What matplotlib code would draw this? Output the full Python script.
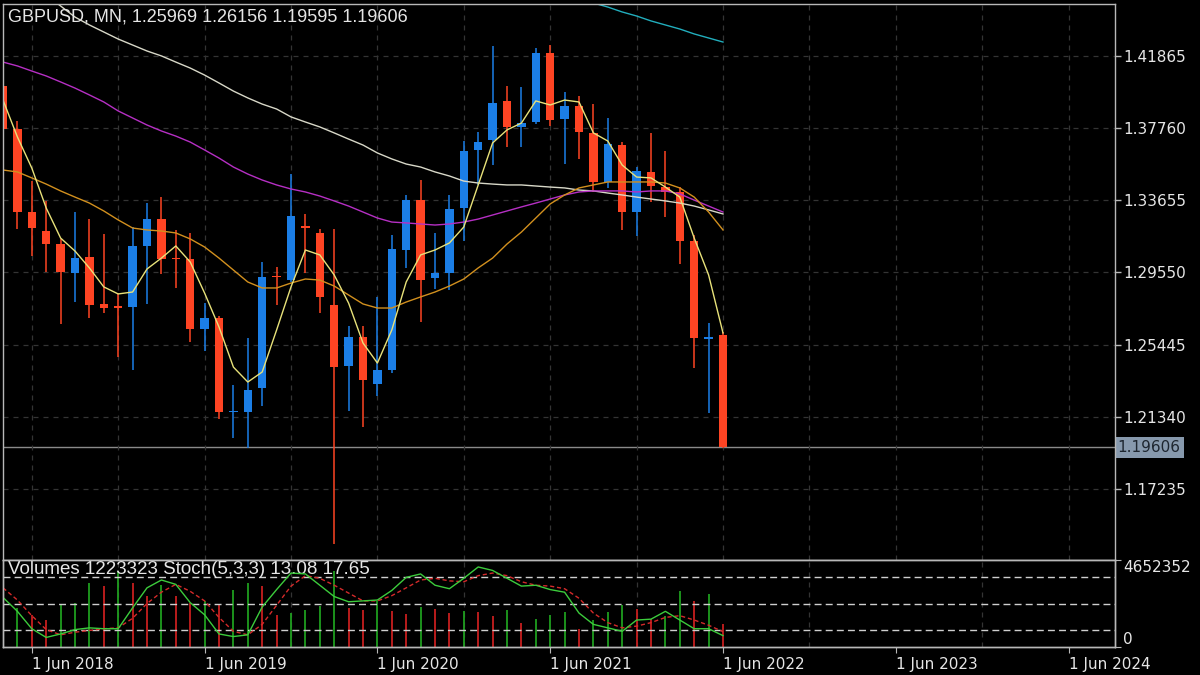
import matplotlib
matplotlib.use("Agg")
import matplotlib.pyplot as plt
import matplotlib.transforms as mtransforms
import numpy as np

# monthly GBPUSD bars, Apr 2018 .. Jun 2022
opens = [1.4016, 1.3771, 1.3297, 1.3190, 1.3117, 1.2950, 1.3043, 1.2776, 1.2764, 1.2759,
         1.3106, 1.3259, 1.3040, 1.3032, 1.2634, 1.2696, 1.2162, 1.2162, 1.2298, 1.2936,
         1.2915, 1.3218, 1.3180, 1.2770, 1.2423, 1.2588, 1.2321, 1.2400, 1.3083, 1.3367,
         1.2924, 1.2950, 1.3322, 1.3652, 1.3708, 1.3931, 1.3783, 1.3811, 1.4203, 1.3828,
         1.3902, 1.3749, 1.3470, 1.3681, 1.3299, 1.3527, 1.3441, 1.3413, 1.3134, 1.2575,
         1.25969]
highs = [1.4377, 1.3818, 1.3473, 1.3363, 1.3144, 1.3298, 1.3258, 1.3175, 1.2840, 1.3215,
         1.3350, 1.3382, 1.3197, 1.3177, 1.2783, 1.2709, 1.2315, 1.2583, 1.3013, 1.2985,
         1.3515, 1.3285, 1.3200, 1.3202, 1.2648, 1.2648, 1.2813, 1.3168, 1.3396, 1.3482,
         1.3177, 1.3398, 1.3703, 1.3754, 1.4241, 1.4017, 1.4009, 1.4234, 1.4249, 1.3984,
         1.3958, 1.3913, 1.3834, 1.3698, 1.3555, 1.3748, 1.3644, 1.3441, 1.3166, 1.2667,
         1.26156]
lows = [1.3711, 1.3205, 1.3049, 1.2957, 1.2662, 1.2786, 1.2696, 1.2723, 1.2475, 1.2400,
        1.2773, 1.2945, 1.2866, 1.2560, 1.2506, 1.2119, 1.2014, 1.1959, 1.2196, 1.2769,
        1.2900, 1.2954, 1.2725, 1.1409, 1.2166, 1.2076, 1.2252, 1.2384, 1.2981, 1.2676,
        1.2863, 1.2855, 1.3135, 1.3451, 1.3566, 1.3669, 1.3669, 1.3800, 1.3788, 1.3572,
        1.3602, 1.3412, 1.3434, 1.3194, 1.3161, 1.3356, 1.3271, 1.3001, 1.2411, 1.2155,
        1.19595]
closes = [1.3771, 1.3297, 1.3206, 1.3117, 1.2960, 1.3035, 1.2770, 1.2753, 1.2753, 1.3106,
          1.3259, 1.3032, 1.3032, 1.2634, 1.2696, 1.2162, 1.2168, 1.2287, 1.2930, 1.2930,
          1.3276, 1.3206, 1.2815, 1.2417, 1.2588, 1.2344, 1.2400, 1.3089, 1.3367, 1.2910,
          1.2952, 1.3316, 1.3646, 1.3697, 1.3919, 1.3783, 1.3807, 1.4203, 1.3822, 1.3902,
          1.3754, 1.3470, 1.3686, 1.3299, 1.3532, 1.3447, 1.3413, 1.3134, 1.2582, 1.2590,
          1.19606]

# moving averages
ma_yellow = [1.3936, 1.3726, 1.3549, 1.3322, 1.3151, 1.3077, 1.2981, 1.2873, 1.2833, 1.2844,
             1.2975, 1.3037, 1.3106, 1.3015, 1.2838, 1.2645, 1.2417, 1.2332, 1.2389, 1.2628,
             1.2873, 1.3083, 1.3055, 1.2941, 1.2781, 1.2554, 1.2440, 1.2628, 1.2901, 1.3055,
             1.3083, 1.3123, 1.3214, 1.3453, 1.3692, 1.3766, 1.3805, 1.3931, 1.3908, 1.3936,
             1.3925, 1.3749, 1.3703, 1.3566, 1.3498, 1.3493, 1.3441, 1.3384, 1.3151, 1.2941,
             1.2611]
ma_orange = [1.3538, 1.3527, 1.3493, 1.3458, 1.3419, 1.3384, 1.3350, 1.3305, 1.3254, 1.3208,
             1.3197, 1.3191, 1.3180, 1.3146, 1.3100, 1.3037, 1.2969, 1.2901, 1.2867, 1.2867,
             1.2895, 1.2918, 1.2912, 1.2878, 1.2827, 1.2776, 1.2753, 1.2753, 1.2787, 1.2816,
             1.2844, 1.2878, 1.2918, 1.2981, 1.3037, 1.3117, 1.3185, 1.3265, 1.3345, 1.3396,
             1.3436, 1.3453, 1.3470, 1.3470, 1.3470, 1.3470, 1.3464, 1.3436, 1.3384, 1.3299,
             1.3197]
ma_magenta = [1.4152, 1.4130, 1.4101, 1.4073, 1.4039, 1.4004, 1.3965, 1.3925, 1.3874, 1.3834,
              1.3794, 1.3760, 1.3731, 1.3697, 1.3652, 1.3606, 1.3555, 1.3515, 1.3481, 1.3453,
              1.3430, 1.3413, 1.3390, 1.3362, 1.3333, 1.3299, 1.3265, 1.3242, 1.3237, 1.3231,
              1.3225, 1.3231, 1.3242, 1.3259, 1.3282, 1.3305, 1.3328, 1.3350, 1.3373, 1.3396,
              1.3413, 1.3419, 1.3419, 1.3419, 1.3413, 1.3419, 1.3419, 1.3402, 1.3367, 1.3333,
              1.3299]
ma_gray = [1.4716, 1.4653, 1.4590, 1.4533, 1.4471, 1.4408, 1.4363, 1.4323, 1.4283, 1.4249,
           1.4215, 1.4187, 1.4152, 1.4118, 1.4078, 1.4033, 1.3987, 1.3948, 1.3913, 1.3885,
           1.3840, 1.3811, 1.3783, 1.3749, 1.3714, 1.3680, 1.3635, 1.3601, 1.3572, 1.3555,
           1.3527, 1.3504, 1.3475, 1.3464, 1.3458, 1.3453, 1.3453, 1.3447, 1.3441, 1.3436,
           1.3424, 1.3419, 1.3407, 1.3396, 1.3384, 1.3373, 1.3362, 1.3350, 1.3333, 1.3311,
           1.3288]
ma_cyan = [1.4511, 1.4488, 1.4465, 1.4437, 1.4414, 1.4386, 1.4363, 1.4340, 1.4312, 1.4289,
           1.4266]  # only the last 11 bars are inside the window
cyan_start = 40

volumes = [1872000, 2086000, 1711000, 1444000, 2299000, 2353000, 3422000, 3262000, 4064000, 3420000,
           2727000, 3315000, 2727000, 2353000, 2460000, 2246000, 3048000, 3422000, 3262000, 1711000,
           1818000, 1979000, 2192000, 4064000, 2086000, 1979000, 2460000, 1925000, 1765000, 2139000,
           2032000, 1818000, 1925000, 1872000, 1658000, 1979000, 1283000, 1497000, 1711000, 1872000,
           963000, 1444000, 1872000, 2246000, 2032000, 1497000, 1658000, 2995000, 2460000, 2834000,
           1223323]
stoch_main = [57, 41, 21, 11, 15, 20, 22, 21, 21, 45, 68, 77, 72, 51, 37, 15, 12, 14, 46, 66,
              85, 84, 71, 58, 52, 53, 54, 65, 80, 84, 71, 67, 79, 92, 88, 79, 70, 71, 66, 63,
              39, 26, 22, 18, 31, 32, 41, 31, 21, 21, 13.08]
stoch_signal = [68, 54, 36, 20, 14, 17, 19, 21, 22, 33, 50, 63, 72, 64, 53, 34, 18, 14, 26, 48,
                70, 82, 79, 71, 62, 53, 53, 59, 68, 77, 79, 76, 75, 82, 85, 82, 75, 71, 70, 67,
                56, 39, 28, 22, 24, 28, 34, 36, 31, 25, 17.65]
vol_max = 4652352

price_ticks = [1.41865, 1.37760, 1.33655, 1.29550, 1.25445, 1.21340, 1.17235]
last_price = 1.19606
date_labels = ["1 Jun 2018", "1 Jun 2019", "1 Jun 2020", "1 Jun 2021",
               "1 Jun 2022", "1 Jun 2023", "1 Jun 2024"]
title = "GBPUSD, MN, 1.25969 1.26156 1.19595 1.19606"
sub_title = "Volumes 1223323 Stoch(5,3,3) 13.08 17.65"

BULL = "#1b7ee6"
BEAR = "#fe4423"
FRAME = "#b8b8b8"
TXT = "#e6e6e6"
GRID = "#343434"

W, H = 1200, 675
fig = plt.figure(figsize=(12, 6.75), dpi=100, facecolor="black")
ax = fig.add_axes([3 / W, 1 - 560 / H, 1112 / W, 556 / H], facecolor="black")
axv = fig.add_axes([3 / W, 1 - 647 / H, 1112 / W, 87 / H], facecolor="black")
axs = axv.twinx()

x = np.arange(len(opens))
xmin, xmax = 0.0, 1112 / 14.4   # 14.4 px per monthly bar

# ---- candles
o = np.array(opens); c = np.array(closes)
cols = [BULL if cc >= oo else BEAR for oo, cc in zip(o, c)]
ax.vlines(x, lows, highs, colors=cols, lw=1.1, zorder=2)
body = np.maximum(np.abs(c - o), 0.0007)
ax.bar(x, body, width=0.58, bottom=np.minimum(o, c), color=cols, lw=0, zorder=3)

# ---- moving averages
ax.plot(x, ma_gray, color="#d8d8c8", lw=1, zorder=4)
ax.plot(x, ma_magenta, color="#b62fc4", lw=1, zorder=4)
ax.plot(x, ma_orange, color="#d2901e", lw=1, zorder=4)
ax.plot(x, ma_yellow, color="#e8e27a", lw=1, zorder=5)
ax.plot(x[cyan_start:], ma_cyan, color="#22aebd", lw=1, zorder=4)

# current price line + label
ax.axhline(last_price, color="#8a8a8a", lw=1, zorder=1)
trans = mtransforms.blended_transform_factory(ax.transAxes, ax.transData)
ax.text(1.0025, last_price, f"{last_price:.5f}", transform=trans, ha="left", va="center",
        fontsize=11, family="DejaVu Sans", color="#1e2630",
        bbox=dict(boxstyle="square,pad=0.18", fc="#8799ad", ec="none"))

ax.set_xlim(xmin, xmax)
ax.set_ylim(1.13196, 1.44823)
grid_pos = np.arange(2, 77, 6)
ax.set_xticks(grid_pos)
ax.tick_params(axis="x", length=0, labelbottom=False)
ax.yaxis.tick_right()
ax.set_yticks(price_ticks)
ax.set_yticklabels([f"{p:.5f}" for p in price_ticks])
ax.tick_params(axis="y", direction="out", length=4, width=1, color=FRAME,
               labelcolor=TXT, labelsize=11, pad=2)
ax.grid(True, color=GRID, lw=0.9, ls=(0, (4, 4)), zorder=0)

fig.text(8 / W, 1 - 17 / H, title, color=TXT, fontsize=13, family="Liberation Sans",
         ha="left", va="center")

# ---- volumes + stochastic
vcols = ["#c81e1e"] + ["#1f9e1f" if volumes[i] > volumes[i - 1] else "#c81e1e"
                       for i in range(1, len(volumes))]
axv.vlines(x, 0, volumes, colors=vcols, lw=1.3, zorder=2)
axv.set_xlim(xmin, xmax)
axv.set_ylim(0, vol_max)
axv.yaxis.tick_right()
axv.set_yticks([0, vol_max])
axv.set_yticklabels(["0", str(vol_max)])
axv.tick_params(axis="y", direction="out", length=4, color=FRAME, labelcolor=TXT,
                labelsize=11, pad=2)
lab = axv.get_yticklabels()
lab[0].set_va("bottom")
lab[1].set_va("top")
date_pos = [2 + 12 * k for k in range(len(date_labels))]
axv.set_xticks(date_pos)
axv.set_xticklabels(date_labels, ha="left")
axv.tick_params(axis="x", direction="out", length=4, color=FRAME, labelcolor=TXT,
                labelsize=11, pad=3)
axv.set_xticks(grid_pos, minor=True)
axv.tick_params(axis="x", which="minor", length=0)
axv.grid(True, which="minor", axis="x", color=GRID, lw=0.9, ls=(0, (4, 4)), zorder=0)

for lvl in (20, 50, 80):
    axs.axhline(lvl, color="#cfcfcf", lw=1, ls=(0, (5, 3)), zorder=1)
axs.plot(x, stoch_signal, color="#d42a2a", lw=1, ls=(0, (3, 2)), zorder=3)
axs.plot(x, stoch_main, color="#3ccc3c", lw=1, zorder=4)
axs.set_ylim(0, 100)
axs.set_xlim(xmin, xmax)
axs.set_yticks([])
axs.text(5 / 1112, 1 - 10 / 87, sub_title, transform=axs.transAxes, color=TXT,
         fontsize=13.5, family="Liberation Sans", ha="left", va="center")

for a in (ax, axv, axs):
    for s in a.spines.values():
        s.set_color(FRAME)
        s.set_linewidth(1)
        s.set_zorder(10)

fig.savefig("out.png", dpi=100, facecolor="black")
